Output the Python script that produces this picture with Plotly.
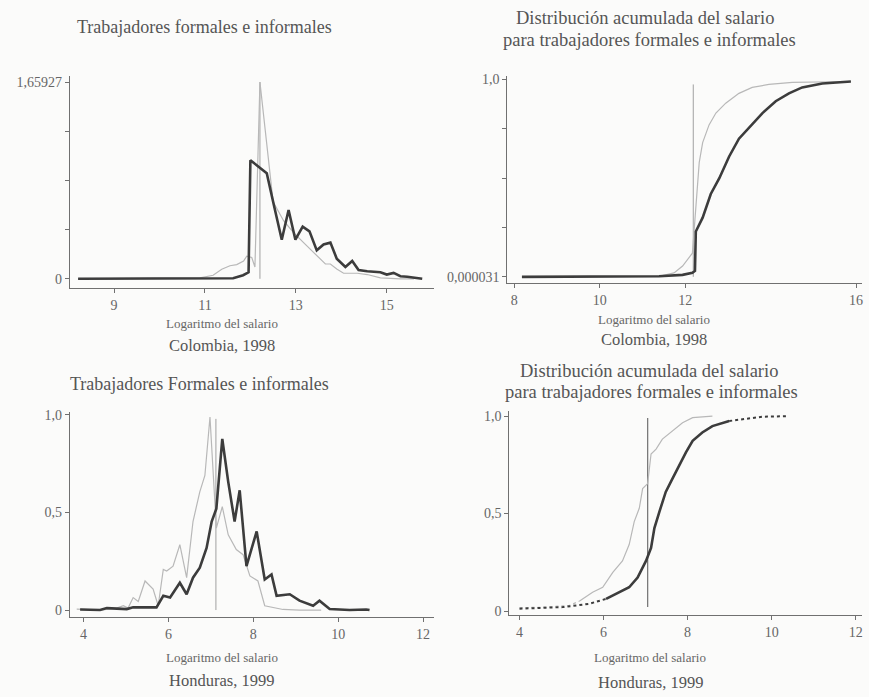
import plotly.graph_objects as go

W, H = 869, 697

# ---------------- data ----------------
# Colombia 1998 - density of log wage
col_dens_thin_x = [8.21, 10.89, 11.18, 11.37, 11.55, 11.7, 11.85, 11.92, 12.03, 12.1, 12.21, 12.36, 12.5,
                   12.73, 12.95, 13.17, 13.39, 13.54, 13.65, 13.76, 13.9, 14.05, 14.35, 14.57, 14.86, 15.3, 15.6]
col_dens_thin_y = [0, 0.008, 0.03, 0.08, 0.11, 0.12, 0.15, 0.19, 0.18, 0.10, 1.65927, 1.11, 0.65,
                   0.49, 0.39, 0.305, 0.22, 0.166, 0.125, 0.125, 0.083, 0.047, 0.047, 0.036, 0.008, 0, 0]
col_dens_thick_x = [8.21, 11.62, 11.84, 11.96, 12.0, 12.14, 12.36, 12.5, 12.69, 12.84, 12.99, 13.15, 13.3,
                    13.46, 13.61, 13.76, 13.9, 14.09, 14.24, 14.38, 14.57, 14.86, 15.0, 15.15, 15.3, 15.45, 15.78]
col_dens_thick_y = [0, 0.005, 0.03, 0.055, 1.0, 0.96, 0.89, 0.65, 0.33, 0.58, 0.33, 0.44, 0.40,
                    0.24, 0.29, 0.305, 0.17, 0.10, 0.15, 0.075, 0.064, 0.055, 0.036, 0.05, 0.022, 0.017, 0.0]
col_dens_ref_x = 12.21
col_dens_ymax = 1.65927

# Colombia 1998 - cumulative distribution
col_cdf_thin_x = [8.18, 11.39, 11.74, 11.94, 12.17, 12.25, 12.33, 12.41, 12.56, 12.72, 12.95, 13.26,
                  13.57, 13.96, 14.51, 15.88]
col_cdf_thin_y = [0.000031, 0.003, 0.02, 0.055, 0.12, 0.35, 0.58, 0.68, 0.77, 0.83, 0.88, 0.93,
                  0.96, 0.975, 0.985, 0.99]
col_cdf_thick_x = [8.18, 11.39, 11.94, 12.17, 12.23, 12.25, 12.41, 12.6, 12.8, 13.03, 13.26, 13.5,
                   13.81, 14.12, 14.43, 14.74, 15.21, 15.88]
col_cdf_thick_y = [0.000031, 0.003, 0.01, 0.02, 0.03, 0.23, 0.30, 0.42, 0.50, 0.61, 0.70, 0.755,
                   0.83, 0.89, 0.93, 0.96, 0.98, 0.99]
col_cdf_ref_x = 12.19
col_cdf_ref_top = 0.975

# Honduras 1999 - density of log wage
hon_dens_thin_x = [3.84, 4.39, 4.78, 4.94, 5.05, 5.17, 5.29, 5.45, 5.64, 5.76, 5.88, 5.96, 6.11, 6.27,
                   6.43, 6.58, 6.74, 6.86, 6.98, 7.13, 7.27, 7.41, 7.6, 7.76, 7.92, 8.11, 8.27, 8.43,
                   8.7, 9.09, 9.6]
hon_dens_thin_y = [0.005, 0, 0.01, 0.022, 0.01, 0.064, 0.044, 0.149, 0.107, 0.022, 0.208, 0.2, 0.225,
                   0.335, 0.166, 0.454, 0.606, 0.69, 0.99, 0.42, 0.53, 0.386, 0.31, 0.284, 0.175,
                   0.149, 0.022, 0.014, 0.003, 0, 0]
hon_dens_thick_x = [3.92, 4.39, 4.55, 5.02, 5.17, 5.72, 5.88, 6.04, 6.27, 6.43, 6.58, 6.74, 6.9, 7.02,
                    7.13, 7.27, 7.41, 7.56, 7.68, 7.84, 8.08, 8.27, 8.43, 8.55, 8.86, 9.09, 9.41, 9.56,
                    9.8, 10.27, 10.66, 10.74]
hon_dens_thick_y = [0.003, 0, 0.01, 0.005, 0.014, 0.014, 0.073, 0.064, 0.14, 0.081, 0.166, 0.217,
                    0.318, 0.454, 0.52, 0.877, 0.657, 0.454, 0.614, 0.225, 0.403, 0.157, 0.183, 0.073,
                    0.081, 0.048, 0.022, 0.048, 0.005, 0, 0.003, 0]
hon_dens_ref_x = 7.12
hon_dens_ref_top = 0.98

# Honduras 1999 - cumulative distribution
hon_cdf_thin_x = [4.0, 4.63, 5.19, 5.43, 5.74, 5.98, 6.22, 6.45, 6.61, 6.73, 6.85, 6.93, 7.05, 7.13,
                  7.25, 7.4, 7.64, 7.88, 8.12, 8.59]
hon_cdf_thin_y = [0.017, 0.02, 0.029, 0.051, 0.096, 0.122, 0.198, 0.257, 0.341, 0.459, 0.527, 0.628,
                  0.654, 0.806, 0.831, 0.882, 0.924, 0.966, 0.992, 1.0]
hon_cdf_thick_x = [4.0, 5.03, 5.66, 6.06, 6.38, 6.61, 6.81, 7.01, 7.13, 7.21, 7.33, 7.48, 7.64, 7.8,
                   7.96, 8.12, 8.35, 8.59, 8.99, 9.38, 9.78, 10.41]
hon_cdf_thick_y = [0.012, 0.02, 0.037, 0.062, 0.096, 0.122, 0.172, 0.257, 0.324, 0.426, 0.51, 0.611,
                   0.679, 0.747, 0.814, 0.873, 0.916, 0.949, 0.975, 0.986, 0.997, 1.0]
hon_cdf_ref_x = 7.05
hon_cdf_ref_y = [0.02, 0.99]

# tick labels
p1_xticks = [9, 11, 13, 15]
p1_yticks = [0, 0.4148, 0.8296, 1.2445, 1.65927]
p1_ytext = ["0", "", "", "", "1,65927"]
p2_xticks = [8, 10, 12, 16]
p2_yticks = [0.000031, 0.25, 0.5, 0.75, 1.0]
p2_ytext = ["0,000031", "", "", "", "1,0"]
p34_xticks = [4, 6, 8, 10, 12]
p34_yticks = [0, 0.5, 1.0]
p34_ytext = ["0", "0,5", "1,0"]

titles = {
    "t1": "Trabajadores formales e informales",
    "t2a": "Distribución acumulada del salario",
    "t2b": "para trabajadores formales e informales",
    "t3": "Trabajadores Formales e informales",
    "xlab": "Logaritmo del salario",
    "col": "Colombia, 1998",
    "hon": "Honduras, 1999",
}

# ---------------- styles ----------------
THIN = dict(color="#b8b8b8", width=1.2)
THICK = dict(color="#3c3c3c", width=2.6)
REF = dict(color="#a0a0a0", width=1)
FONT = "Liberation Serif"
AXC = "#707070"


def xd(l, r):
    return [l / W, r / W]


def yd(top, bottom):
    return [1 - bottom / H, 1 - top / H]


fig = go.Figure()


def add(x, y, line, ax, dash=None):
    ln = dict(line)
    if dash:
        ln["dash"] = dash
    fig.add_trace(go.Scatter(x=x, y=y, mode="lines", line=ln, xaxis="x" + ax, yaxis="y" + ax,
                             showlegend=False, hoverinfo="skip"))


# panel 1
add([col_dens_ref_x, col_dens_ref_x], [0, col_dens_ymax], REF, "")
add(col_dens_thin_x, col_dens_thin_y, THIN, "")
add(col_dens_thick_x, col_dens_thick_y, THICK, "")
# panel 2
add([col_cdf_ref_x, col_cdf_ref_x], [0, col_cdf_ref_top], REF, "2")
add(col_cdf_thin_x, col_cdf_thin_y, THIN, "2")
add(col_cdf_thick_x, col_cdf_thick_y, THICK, "2")
# panel 3
add([hon_dens_ref_x, hon_dens_ref_x], [0, hon_dens_ref_top], REF, "3")
add(hon_dens_thin_x, hon_dens_thin_y, THIN, "3")
add(hon_dens_thick_x, hon_dens_thick_y, THICK, "3")
# panel 4
add([hon_cdf_ref_x, hon_cdf_ref_x], hon_cdf_ref_y, dict(color="#707070", width=1.2), "4")
lo = [i for i, v in enumerate(hon_cdf_thin_x) if v <= 5.45]
add([hon_cdf_thin_x[i] for i in lo], [hon_cdf_thin_y[i] for i in lo], THIN, "4", dash="dot")
hi = [i for i, v in enumerate(hon_cdf_thin_x) if v >= 5.43]
add([hon_cdf_thin_x[i] for i in hi], [hon_cdf_thin_y[i] for i in hi], THIN, "4")
lo = [i for i, v in enumerate(hon_cdf_thick_x) if v <= 6.06]
add([hon_cdf_thick_x[i] for i in lo], [hon_cdf_thick_y[i] for i in lo],
    dict(color="#3c3c3c", width=2), "4", dash="dot")
mid = [i for i, v in enumerate(hon_cdf_thick_x) if 6.06 <= v <= 8.99]
add([hon_cdf_thick_x[i] for i in mid], [hon_cdf_thick_y[i] for i in mid], THICK, "4")
hi = [i for i, v in enumerate(hon_cdf_thick_x) if v >= 8.99]
add([hon_cdf_thick_x[i] for i in hi], [hon_cdf_thick_y[i] for i in hi],
    dict(color="#3c3c3c", width=2), "4", dash="dot")


def axis(domain, rng, tickvals, ticktext=None, anchor=None):
    d = dict(domain=domain, range=rng, tickvals=tickvals, showline=True, linecolor=AXC, linewidth=1,
             ticks="outside", ticklen=4, tickcolor=AXC, showgrid=False, zeroline=False,
             tickfont=dict(family=FONT, size=14, color="#666"), fixedrange=True)
    if ticktext is not None:
        d["ticktext"] = ticktext
    if anchor:
        d["anchor"] = anchor
    return d


fig.update_layout(
    width=W, height=H, margin=dict(l=0, r=0, t=0, b=0),
    paper_bgcolor="#fbfbfa", plot_bgcolor="rgba(0,0,0,0)",
    xaxis=axis(xd(70, 435), [8.03, 16.05], p1_xticks, anchor="y"),
    yaxis=axis(yd(73, 287), [-0.075, 1.709], p1_yticks, p1_ytext, anchor="x"),
    xaxis2=axis(xd(508, 863), [7.84, 16.14], p2_xticks, anchor="y2"),
    yaxis2=axis(yd(73, 282), [-0.03, 1.017], p2_yticks, p2_ytext, anchor="x2"),
    xaxis3=axis(xd(70, 435), [3.68, 12.27], p34_xticks, anchor="y3"),
    yaxis3=axis(yd(413, 620), [-0.035, 1.014], p34_yticks, p34_ytext, anchor="x3"),
    xaxis4=axis(xd(510, 863), [3.76, 12.15], p34_xticks, anchor="y4"),
    yaxis4=axis(yd(412, 618), [-0.02, 1.025], p34_yticks, p34_ytext, anchor="x4"),
)


def txt(s, x, y, size, color="#555"):
    fig.add_annotation(text=s, x=x / W, y=1 - y / H, xref="paper", yref="paper", showarrow=False,
                       xanchor="center", yanchor="middle", font=dict(family=FONT, size=size, color=color))


txt(titles["t1"], 205, 23, 18)
txt(titles["t2a"], 646, 14, 18.5)
txt(titles["t2b"], 650, 36, 18.5)
txt(titles["xlab"], 222, 323, 13, "#666")
txt(titles["col"], 222, 345, 16.5)
txt(titles["xlab"], 655, 319, 13, "#666")
txt(titles["col"], 655, 339, 16.5)
txt(titles["t3"], 200, 384, 18)
txt(titles["t2a"], 650, 371, 18.5)
txt(titles["t2b"], 652, 393, 18.5)
txt(titles["xlab"], 222, 661, 13, "#666")
txt(titles["hon"], 222, 684, 16.5)
txt(titles["xlab"], 651, 661, 13, "#666")
txt(titles["hon"], 651, 686, 16.5)

fig.write_html("out.html", config={"displayModeBar": False},
               post_script="document.body.style.margin='0';document.body.style.overflow='hidden';")
